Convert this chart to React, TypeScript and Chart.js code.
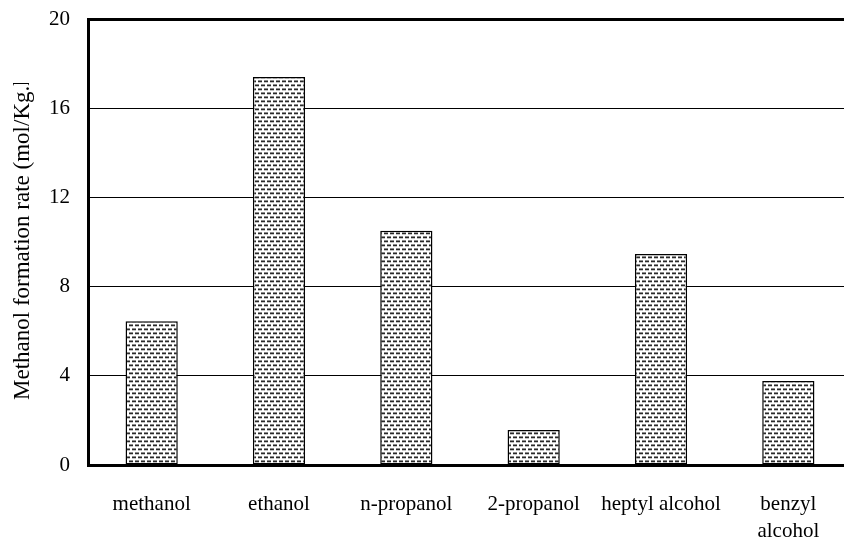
import React, { useEffect, useRef } from "react";
import { Chart, registerables } from "chart.js";
Chart.register(...registerables);

const categories: (string | string[])[] = [
  "methanol",
  "ethanol",
  "n-propanol",
  "2-propanol",
  "heptyl alcohol",
  ["benzyl", "alcohol"],
];
const rates = [6.45, 17.4, 10.5, 1.57, 9.46, 3.77];
const yMin = 0;
const yMax = 20;
const yStep = 4;
const yTitle = "Methanol formation rate (mol/Kg.h)";

const FONT = "'Liberation Serif', 'Times New Roman', serif";

function makePattern(): CanvasPattern | string {
  const c = document.createElement("canvas");
  c.width = 6;
  c.height = 8;
  const g = c.getContext("2d");
  if (!g) return "#ccc";
  g.fillStyle = "#ffffff";
  g.fillRect(0, 0, 6, 8);
  // row A: dash at x 0..3
  g.fillStyle = "#8c8c8c";
  g.fillRect(0, 0, 4, 1);
  g.fillStyle = "#2a2a2a";
  g.fillRect(0, 1, 4, 1);
  g.fillStyle = "#c4c4c4";
  g.fillRect(0, 2, 4, 1);
  // row B: dash at x 3..6 (wrapping)
  g.fillStyle = "#8c8c8c";
  g.fillRect(3, 4, 3, 1);
  g.fillRect(0, 4, 1, 1);
  g.fillStyle = "#2a2a2a";
  g.fillRect(3, 5, 3, 1);
  g.fillRect(0, 5, 1, 1);
  g.fillStyle = "#c4c4c4";
  g.fillRect(3, 6, 3, 1);
  g.fillRect(0, 6, 1, 1);
  const p = g.createPattern(c, "repeat");
  return p || "#ccc";
}

const titlePlugin = {
  id: "yTitlePlugin",
  afterDraw(chart: any) {
    const ctx = chart.ctx as CanvasRenderingContext2D;
    ctx.save();
    ctx.beginPath();
    ctx.rect(0, 83, 60, 460);
    ctx.clip();
    ctx.translate(23, 400);
    ctx.rotate(-Math.PI / 2);
    ctx.font = `23px ${FONT}`;
    ctx.fillStyle = "#000";
    ctx.textAlign = "left";
    ctx.textBaseline = "middle";
    ctx.fillText(yTitle, 0, 0);
    ctx.restore();
  },
};

export default function App() {
  const ref = useRef<HTMLCanvasElement>(null);
  useEffect(() => {
    if (!ref.current) return;
    const chart = new Chart(ref.current, {
      type: "bar",
      data: {
        labels: categories as any,
        datasets: [
          {
            data: rates,
            backgroundColor: makePattern() as any,
            borderColor: "#000",
            borderWidth: 1.5,
            borderSkipped: false,
            barPercentage: 0.41,
            categoryPercentage: 1,
          },
        ],
      },
      options: {
        responsive: false,
        animation: false,
        layout: { autoPadding: false, padding: { top: 19, right: 8, left: 0, bottom: 0 } },
        plugins: {
          legend: { display: false },
          tooltip: { enabled: false },
          title: { display: false },
        },
        scales: {
          x: {
            offset: true,
            grid: { display: false, drawTicks: false },
            border: { display: true, color: "#000", width: 3 },
            ticks: {
              color: "#000",
              padding: 26,
              maxRotation: 0,
              autoSkip: false,
              font: { family: FONT, size: 21, lineHeight: 1.3 },
            },
            afterFit(scale: any) {
              scale.height = 78;
              scale.paddingLeft = 0;
              scale.paddingRight = 0;
            },
          },
          y: {
            min: yMin,
            max: yMax,
            grid: {
              color: "#000",
              drawTicks: false,
              lineWidth: (c: any) => (c.tick && c.tick.value === yMax ? 3 : 1),
            },
            border: { display: true, color: "#000", width: 3 },
            ticks: {
              stepSize: yStep,
              color: "#000",
              padding: 18,
              font: { family: FONT, size: 21 },
            },
            afterFit(scale: any) {
              scale.width = 88;
              scale.paddingTop = 0;
              scale.paddingBottom = 0;
            },
          },
        },
      },
      plugins: [titlePlugin],
    });
    return () => chart.destroy();
  }, []);
  return (
    <div
      style={{
        position: "absolute",
        left: 0,
        top: 0,
        width: 844,
        height: 543,
        overflow: "hidden",
        background: "#fff",
      }}
    >
      <canvas ref={ref} width={860} height={543} style={{ width: 860, height: 543, display: "block" }} />
    </div>
  );
}
